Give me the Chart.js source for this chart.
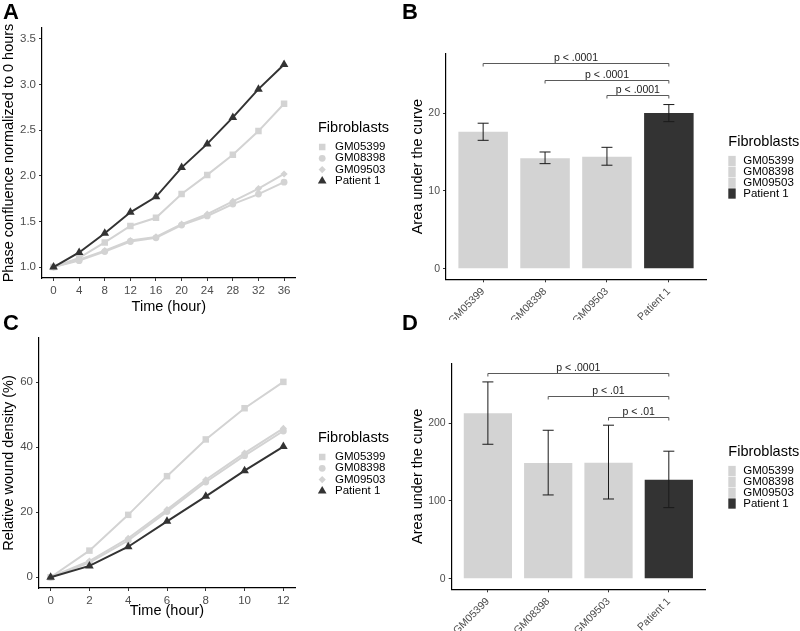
<!DOCTYPE html>
<html>
<head>
<meta charset="utf-8">
<script src="https://cdn.jsdelivr.net/npm/chart.js"></script>
<style>
html, body { margin: 0; padding: 0; background: #fff; }
#wrap { position: relative; width: 800px; height: 631px; overflow: hidden; }
canvas { position: absolute; }
</style>
</head>
<body>
<div id="wrap">
  <canvas id="chartA" width="400" height="320" style="left:0px;top:0px"></canvas>
  <canvas id="chartB" width="400" height="330" style="left:400px;top:0px"></canvas>
  <canvas id="chartC" width="400" height="321" style="left:0px;top:310px"></canvas>
  <canvas id="chartD" width="400" height="321" style="left:400px;top:310px"></canvas>
</div>
<script>
// panel A - proliferation
const hoursA = [0, 4, 8, 12, 16, 20, 24, 28, 32, 36]
const gm05399A = [1.00, 1.10, 1.27, 1.45, 1.54, 1.80, 2.01, 2.23, 2.49, 2.79]
const gm08398A = [1.00, 1.07, 1.17, 1.28, 1.32, 1.46, 1.56, 1.69, 1.80, 1.93]
const gm09503A = [1.00, 1.08, 1.18, 1.29, 1.33, 1.47, 1.58, 1.72, 1.86, 2.02]
const patient1A = [1.00, 1.16, 1.37, 1.60, 1.77, 2.09, 2.35, 2.64, 2.95, 3.22]
const yTicksA = [1.0, 1.5, 2.0, 2.5, 3.0, 3.5]

// panel C - wound density
const hoursC = [0, 2, 4, 6, 8, 10, 12]
const gm05399C = [0, 8.2, 19.2, 31.1, 42.4, 52.0, 60.1]
const gm08398C = [0, 4.5, 11.3, 20.2, 29.3, 37.4, 45.0]
const gm09503C = [0, 5.0, 12.0, 20.8, 30.0, 38.2, 45.8]
const patient1C = [0, 3.5, 9.4, 17.2, 24.9, 32.8, 40.2]
const yTicksC = [0, 20, 40, 60]

// panels B and D - area under the curve
const cells = ["GM05399", "GM08398", "GM09503", "Patient 1"]
const aucB = [17.6, 14.2, 14.4, 20.0]
const aucBLow = [16.5, 13.5, 13.3, 18.9]
const aucBHigh = [18.7, 15.0, 15.6, 21.1]
const yTicksB = [0, 10, 20]
const sigFromB = [0, 1, 2]
const sigToB = [3, 3, 3]
const sigLevelB = [26.4, 24.3, 22.3]
const sigTextB = ["p < .0001", "p < .0001", "p < .0001"]

const aucD = [212.5, 148.7, 149.1, 127.2]
const aucDLow = [172.7, 107.6, 102.4, 91.3]
const aucDHigh = [252.8, 190.7, 197.2, 163.8]
const yTicksD = [0, 100, 200]
const sigFromD = [0, 1, 2]
const sigToD = [3, 3, 3]
const sigLevelD = [264.0, 235.2, 207.4]
const sigTextD = ["p < .0001", "p < .01", "p < .01"]

const fontFamily = "'Liberation Sans', Arial, Helvetica, sans-serif"
Chart.defaults.font.family = fontFamily
Chart.defaults.color = "#4D4D4D"

const lightGray = "#D3D3D3"
const darkGray = "#333333"
const barColors = [lightGray, lightGray, lightGray, darkGray]

function drawMarker(ctx, style, r, x, y) {
    ctx.beginPath()
    if (style == "rect") {
        const s = r * Math.SQRT1_2
        ctx.rect(x - s, y - s, 2 * s, 2 * s)
    } else if (style == "circle") {
        ctx.arc(x, y, r, 0, Math.PI * 2)
    } else if (style == "rectRot") {
        ctx.moveTo(x, y - r)
        ctx.lineTo(x + r, y)
        ctx.lineTo(x, y + r)
        ctx.lineTo(x - r, y)
        ctx.closePath()
    } else if (style == "triangle") {
        ctx.moveTo(x, y - r)
        ctx.lineTo(x + r * Math.sin(Math.PI / 3), y + r / 2)
        ctx.lineTo(x - r * Math.sin(Math.PI / 3), y + r / 2)
        ctx.closePath()
    }
    ctx.fill()
}

const panelLetter = {
    id: "panelLetter",
    afterDraw(chart, args, opts) {
        const ctx = chart.ctx
        ctx.save()
        ctx.font = "bold 22px " + fontFamily
        ctx.fillStyle = "#000"
        ctx.textBaseline = "alphabetic"
        ctx.fillText(opts.text, opts.x, opts.y)
        ctx.restore()
    }
}

const fibroLegend = {
    id: "fibroLegend",
    afterDraw(chart, args, opts) {
        const ctx = chart.ctx
        ctx.save()
        ctx.fillStyle = "#000"
        ctx.textBaseline = "middle"
        ctx.font = "14.5px " + fontFamily
        ctx.fillText("Fibroblasts", opts.x, opts.titleY)
        ctx.font = "11.5px " + fontFamily
        let items
        if (opts.kind == "box") {
            const ds = chart.data.datasets[0]
            items = chart.data.labels.map((label, i) => ({ label: label, color: ds.backgroundColor[i] }))
        } else {
            items = chart.data.datasets.map((ds) => ({ label: ds.label, color: ds.backgroundColor, style: ds.pointStyle, r: ds.pointRadius }))
        }
        items.forEach((item, i) => {
            const y = opts.firstY + i * opts.step
            ctx.fillStyle = item.color
            if (opts.kind == "box") {
                ctx.fillRect(opts.x, y - opts.step / 2 + 0.3, 7.4, opts.step - 0.6)
            } else {
                drawMarker(ctx, item.style, item.r, opts.x + 4.2, y)
            }
            ctx.fillStyle = "#000"
            ctx.fillText(item.label, opts.textX, y)
        })
        ctx.restore()
    }
}

const errorBars = {
    id: "errorBars",
    afterDatasetsDraw(chart, args, opts) {
        const ctx = chart.ctx
        const xs = chart.scales.x
        const ys = chart.scales.y
        ctx.save()
        ctx.strokeStyle = "#1a1a1a"
        ctx.lineWidth = 1
        opts.low.forEach((lo, i) => {
            const x = xs.getPixelForValue(i)
            const y1 = ys.getPixelForValue(lo)
            const y2 = ys.getPixelForValue(opts.high[i])
            ctx.beginPath()
            ctx.moveTo(x, y1)
            ctx.lineTo(x, y2)
            ctx.moveTo(x - 5.5, y1)
            ctx.lineTo(x + 5.5, y1)
            ctx.moveTo(x - 5.5, y2)
            ctx.lineTo(x + 5.5, y2)
            ctx.stroke()
        })
        ctx.restore()
    }
}

const sigBrackets = {
    id: "sigBrackets",
    afterDatasetsDraw(chart, args, opts) {
        const ctx = chart.ctx
        const xs = chart.scales.x
        const ys = chart.scales.y
        ctx.save()
        ctx.strokeStyle = "#5a5a5a"
        ctx.lineWidth = 1
        ctx.font = "10.5px " + fontFamily
        ctx.textAlign = "center"
        ctx.textBaseline = "alphabetic"
        opts.from.forEach((a, i) => {
            const x1 = xs.getPixelForValue(a)
            const x2 = xs.getPixelForValue(opts.to[i])
            const y = Math.round(ys.getPixelForValue(opts.level[i])) + 0.5
            ctx.beginPath()
            ctx.moveTo(x1, y + 3)
            ctx.lineTo(x1, y)
            ctx.lineTo(x2, y)
            ctx.lineTo(x2, y + 3)
            ctx.stroke()
            ctx.fillStyle = "#222"
            ctx.fillText(opts.text[i], (x1 + x2) / 2, y - 2.5)
        })
        ctx.restore()
    }
}

function axisStyle(tickSize) {
    return {
        grid: { display: true, drawOnChartArea: false, drawTicks: true, tickLength: 3, tickColor: "#333", tickWidth: 1 },
        border: { display: true, color: "#000", width: 1.2 },
        ticks: { color: "#4D4D4D", font: { size: tickSize }, padding: 3, autoSkip: false, maxRotation: 0 }
    }
}

function lineSeries(label, hours, values, style, radius, color, order) {
    return {
        label: label,
        data: hours.map((h, i) => ({ x: h, y: values[i] })),
        borderColor: color,
        backgroundColor: color,
        borderWidth: 2,
        pointStyle: style,
        pointRadius: radius,
        pointBorderWidth: 0,
        tension: 0,
        order: order
    }
}

function lineConfig(hours, series, yMin, yMax, yTicks, xMin, xMax, yWidth, xHeight, yTitle, layout, titlePad, letter) {
    const x = axisStyle(11.5)
    x.type = "linear"
    x.min = xMin
    x.max = xMax
    x.afterBuildTicks = (s) => { s.ticks = hours.map((v) => ({ value: v })) }
    x.afterFit = (s) => { s.height = xHeight }
    x.title = { display: true, text: "Time (hour)", color: "#000", font: { size: 14.5 }, padding: { top: 0, bottom: titlePad } }

    const y = axisStyle(11.5)
    y.min = yMin
    y.max = yMax
    y.afterBuildTicks = (s) => { s.ticks = yTicks.map((v) => ({ value: v })) }
    y.afterFit = (s) => { s.width = yWidth }
    y.ticks.callback = (v) => (yTicks[0] == 1 ? v.toFixed(1) : v)
    y.title = { display: true, text: yTitle, color: "#000", font: { size: 14.5 }, padding: { top: 0, bottom: 0 } }

    return {
        type: "line",
        data: { datasets: series },
        options: {
            responsive: false,
            animation: false,
            devicePixelRatio: 1,
            layout: { padding: layout },
            scales: { x: x, y: y },
            plugins: {
                legend: { display: false },
                tooltip: { enabled: false },
                panelLetter: letter,
                fibroLegend: { x: 318, textX: 335, titleY: 128.3, firstY: 147, step: 11.3, kind: "point" }
            }
        },
        plugins: [panelLetter, fibroLegend]
    }
}

function barConfig(values, low, high, yMin, yMax, yTicks, yWidth, xHeight, layout, sig, letter) {
    const x = axisStyle(10.5)
    x.type = "linear"
    x.min = -0.6
    x.max = 3.6
    x.offset = false
    x.grid.offset = false
    x.afterBuildTicks = (s) => { s.ticks = cells.map((c, i) => ({ value: i })) }
    x.afterFit = (s) => { s.height = xHeight }
    x.ticks.minRotation = 45
    x.ticks.maxRotation = 45
    x.ticks.callback = (v) => cells[v]

    const y = axisStyle(10.5)
    y.min = yMin
    y.max = yMax
    y.afterBuildTicks = (s) => { s.ticks = yTicks.map((v) => ({ value: v })) }
    y.afterFit = (s) => { s.width = yWidth }
    y.title = { display: true, text: "Area under the curve", color: "#000", font: { size: 14.5 }, padding: { top: 9.6, bottom: 0 } }

    return {
        type: "bar",
        data: {
            labels: cells,
            datasets: [{
                data: cells.map((c, i) => ({ x: i, y: values[i] })),
                backgroundColor: barColors,
                borderWidth: 0,
                barPercentage: 0.8,
                categoryPercentage: 1.0
            }]
        },
        options: {
            responsive: false,
            animation: false,
            devicePixelRatio: 1,
            layout: { padding: layout },
            scales: { x: x, y: y },
            plugins: {
                legend: { display: false },
                tooltip: { enabled: false },
                panelLetter: letter,
                errorBars: { low: low, high: high },
                sigBrackets: sig,
                fibroLegend: { x: 328.3, textX: 343.3, titleY: 141.7, firstY: 161, step: 10.85, kind: "box" }
            }
        },
        plugins: [errorBars, sigBrackets, panelLetter, fibroLegend]
    }
}

const seriesA = [
    lineSeries("GM05399", hoursA, gm05399A, "rect", 4.6, lightGray, 4),
    lineSeries("GM08398", hoursA, gm08398A, "circle", 3.4, lightGray, 3),
    lineSeries("GM09503", hoursA, gm09503A, "rectRot", 3.6, lightGray, 2),
    lineSeries("Patient 1", hoursA, patient1A, "triangle", 5.0, darkGray, 1)
]
const seriesC = [
    lineSeries("GM05399", hoursC, gm05399C, "rect", 4.6, lightGray, 4),
    lineSeries("GM08398", hoursC, gm08398C, "circle", 3.4, lightGray, 3),
    lineSeries("GM09503", hoursC, gm09503C, "rectRot", 3.6, lightGray, 2),
    lineSeries("Patient 1", hoursC, patient1C, "triangle", 5.0, darkGray, 1)
]

new Chart(document.getElementById("chartA"), lineConfig(
    hoursA, seriesA, 0.88, 3.62, yTicksA, -1.8, 37.8, 42, 42,
    "Phase confluence normalized to 0 hours",
    { left: 0, top: 28, right: 104.4, bottom: 0 }, 4.3,
    { text: "A", x: 3, y: 19 }))

new Chart(document.getElementById("chartC"), lineConfig(
    hoursC, seriesC, -3.3, 73.6, yTicksC, -0.6, 12.6, 39, 43,
    "Relative wound density (%)",
    { left: 0, top: 28, right: 105, bottom: 0 }, 11.3,
    { text: "C", x: 3, y: 20 }))

new Chart(document.getElementById("chartB"), barConfig(
    aucB, aucBLow, aucBHigh, -1.37, 27.6, yTicksB, 46, 40.7,
    { left: 0, top: 54, right: 94, bottom: 10 },
    { from: sigFromB, to: sigToB, level: sigLevelB, text: sigTextB },
    { text: "B", x: 2, y: 19 }))

new Chart(document.getElementById("chartD"), barConfig(
    aucD, aucDLow, aucDHigh, -13.6, 276.7, yTicksD, 51.7, 41.7,
    { left: 0, top: 53.3, right: 95, bottom: 0 },
    { from: sigFromD, to: sigToD, level: sigLevelD, text: sigTextD },
    { text: "D", x: 2, y: 20 }))
</script>
</body>
</html>
